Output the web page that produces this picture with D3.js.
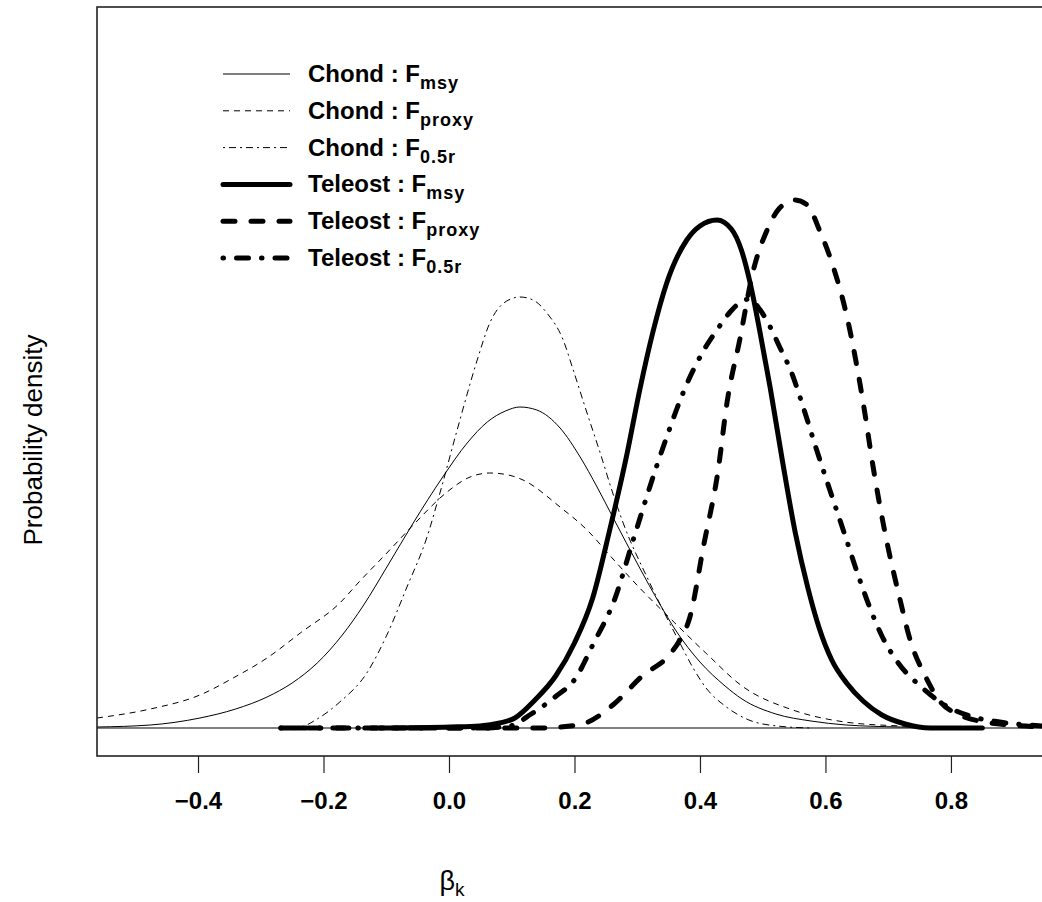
<!DOCTYPE html>
<html>
<head>
<meta charset="utf-8">
<script src="https://cdn.jsdelivr.net/npm/d3@7"></script>
<style>
body { margin: 0; background: #fff; }
svg { display: block; font-family: "Liberation Sans", Arial, sans-serif; }
</style>
</head>
<body>
<div id="chart"></div>
<script>
// density curves, [beta_k, density]
var chondMsy = [[-0.561,0.01],[-0.476,0.03],[-0.397,0.10],[-0.340,0.19],[-0.290,0.31],[-0.250,0.45],
    [-0.210,0.65],[-0.170,0.93],[-0.137,1.22],[-0.099,1.61],[-0.057,2.05],[-0.010,2.51],[0.029,2.85],
    [0.061,3.06],[0.090,3.17],[0.113,3.21],[0.140,3.18],[0.177,3.00],[0.209,2.71],[0.236,2.41],
    [0.261,2.11],[0.304,1.60],[0.335,1.25],[0.362,0.97],[0.400,0.66],[0.440,0.42],[0.467,0.29],
    [0.521,0.14],[0.577,0.07],[0.633,0.03],[0.719,0.01],[0.80,0.0]];
var chondProxy = [[-0.561,0.10],[-0.476,0.19],[-0.397,0.33],[-0.344,0.50],[-0.290,0.70],[-0.237,0.95],
    [-0.174,1.25],[-0.142,1.47],[-0.099,1.75],[-0.057,2.03],[-0.003,2.36],[0.030,2.50],[0.065,2.55],
    [0.095,2.53],[0.118,2.48],[0.177,2.21],[0.220,1.98],[0.260,1.70],[0.304,1.40],[0.360,1.05],
    [0.411,0.74],[0.467,0.42],[0.548,0.18],[0.631,0.06],[0.719,0.02],[0.80,0.0]];
var chondHalfR = [[-0.261,0.0],[-0.237,0.01],[-0.210,0.09],[-0.174,0.26],[-0.131,0.55],[-0.099,0.93],
    [-0.067,1.41],[-0.035,1.91],[-0.014,2.36],[0.013,2.98],[0.045,3.68],[0.065,4.05],[0.092,4.27],
    [0.113,4.31],[0.134,4.28],[0.156,4.15],[0.182,3.88],[0.198,3.58],[0.220,3.15],[0.241,2.75],
    [0.261,2.35],[0.277,2.06],[0.320,1.45],[0.368,0.85],[0.390,0.59],[0.411,0.39],[0.440,0.22],
    [0.478,0.08],[0.523,0.02],[0.577,0.0]];
var teleMsy = [[-0.110,0.0],[0.002,0.01],[0.049,0.02],[0.081,0.05],[0.105,0.10],[0.137,0.28],
    [0.170,0.52],[0.200,0.85],[0.229,1.30],[0.255,1.95],[0.284,2.75],[0.304,3.38],[0.325,3.96],
    [0.347,4.45],[0.379,4.88],[0.400,5.02],[0.427,5.08],[0.450,4.99],[0.466,4.78],[0.480,4.45],
    [0.495,3.98],[0.512,3.40],[0.532,2.65],[0.552,1.95],[0.572,1.40],[0.590,1.00],[0.610,0.68],
    [0.635,0.44],[0.660,0.27],[0.690,0.13],[0.727,0.04],[0.767,0.0],[0.85,0.0]];
var teleProxy = [[-0.268,0.0],[0.145,0.0],[0.193,0.02],[0.218,0.05],[0.263,0.24],[0.308,0.52],
    [0.351,0.73],[0.368,0.88],[0.384,1.11],[0.406,1.83],[0.429,2.58],[0.443,3.25],[0.464,3.90],
    [0.484,4.55],[0.507,4.98],[0.527,5.20],[0.551,5.28],[0.571,5.23],[0.591,4.97],[0.612,4.62],
    [0.634,4.12],[0.650,3.62],[0.662,3.18],[0.676,2.61],[0.695,1.95],[0.719,1.28],[0.735,0.88],
    [0.759,0.52],[0.782,0.27],[0.814,0.13],[0.854,0.06],[0.894,0.03],[0.945,0.01]];
var teleHalfR = [[-0.268,0.0],[0.049,0.0],[0.097,0.02],[0.131,0.14],[0.169,0.31],[0.202,0.50],
    [0.229,0.83],[0.263,1.27],[0.296,1.93],[0.331,2.62],[0.347,2.91],[0.363,3.19],[0.379,3.44],
    [0.395,3.65],[0.410,3.82],[0.427,3.98],[0.448,4.16],[0.465,4.26],[0.478,4.29],[0.496,4.18],
    [0.512,4.01],[0.527,3.81],[0.545,3.57],[0.565,3.20],[0.586,2.78],[0.607,2.38],[0.631,1.93],
    [0.652,1.53],[0.671,1.20],[0.690,0.92],[0.716,0.65],[0.751,0.42],[0.790,0.23],[0.830,0.12],
    [0.878,0.06],[0.945,0.02]];

var groups = ["Chond", "Chond", "Chond", "Teleost", "Teleost", "Teleost"];
var refPoints = ["msy", "proxy", "0.5r", "msy", "proxy", "0.5r"];
var xTicks = [-0.4, -0.2, 0.0, 0.2, 0.4, 0.6, 0.8];

var curves = [chondMsy, chondProxy, chondHalfR, teleMsy, teleProxy, teleHalfR];
// line styles: width, dash pattern
var styles = [
    {w: 1, dash: null},
    {w: 1, dash: "6,5"},
    {w: 1, dash: "2,4,7,4"},
    {w: 5, dash: null},
    {w: 5, dash: "12,16"},
    {w: 5, dash: "0.5,13,12,13"}
];

var width = 1042, height = 902;
var plot = {left: 97, top: 7, right: 1062, bottom: 756};

var x = d3.scaleLinear().domain([-0.561, 0.977]).range([plot.left, plot.right]);
var y = d3.scaleLinear().domain([-0.28, 7.21]).range([plot.bottom, plot.top]);

var svg = d3.select("#chart").append("svg")
    .attr("width", width)
    .attr("height", height);

svg.append("clipPath").attr("id", "clip")
    .append("rect")
    .attr("x", plot.left).attr("y", plot.top)
    .attr("width", plot.right - plot.left).attr("height", plot.bottom - plot.top);

// zero line
svg.append("line")
    .attr("x1", plot.left).attr("x2", plot.right)
    .attr("y1", y(0)).attr("y2", y(0))
    .attr("stroke", "#000").attr("stroke-width", 1.2);

var line = d3.line()
    .x(function (d) { return x(d[0]); })
    .y(function (d) { return y(d[1]); })
    .curve(d3.curveMonotoneX);

svg.append("g")
    .attr("clip-path", "url(#clip)")
    .selectAll("path")
    .data(curves)
    .enter().append("path")
    .attr("d", line)
    .attr("fill", "none")
    .attr("stroke", "#000")
    .attr("stroke-width", function (d, i) { return styles[i].w; })
    .attr("stroke-dasharray", function (d, i) { return styles[i].dash; })
    .attr("stroke-linecap", function (d, i) { return styles[i].w > 2 ? "round" : "butt"; })
    .attr("stroke-linejoin", "round");

// box
svg.append("rect")
    .attr("x", plot.left).attr("y", plot.top)
    .attr("width", plot.right - plot.left).attr("height", plot.bottom - plot.top)
    .attr("fill", "none").attr("stroke", "#222").attr("stroke-width", 1.6);

// x axis
var xAxis = d3.axisBottom(x)
    .tickValues(xTicks)
    .tickSize(17)
    .tickPadding(19)
    .tickFormat(d3.format(".1f"));

var gx = svg.append("g")
    .attr("transform", "translate(0," + plot.bottom + ")")
    .call(xAxis);
gx.select(".domain").remove();
gx.selectAll(".tick line").attr("stroke", "#222").attr("stroke-width", 1.2);
gx.selectAll(".tick text")
    .attr("fill", "#000")
    .style("font-size", "24px")
    .style("font-weight", "bold")
    .style("font-family", "'Liberation Sans', Arial, sans-serif");

// axis titles
var xl = svg.append("text")
    .attr("x", 452).attr("y", 890)
    .attr("text-anchor", "middle")
    .style("font-size", "27px");
xl.append("tspan").text("β");
xl.append("tspan").attr("dy", 6).style("font-size", "19px").text("k");

svg.append("text")
    .attr("transform", "translate(42,440) rotate(-90)")
    .attr("text-anchor", "middle")
    .style("font-size", "26px")
    .text("Probability density");

// legend
var legend = svg.append("g");
var rowY = d3.scaleLinear().domain([0, 5]).range([74, 258]);

legend.selectAll("line")
    .data(curves)
    .enter().append("line")
    .attr("x1", 223).attr("x2", 290)
    .attr("y1", function (d, i) { return rowY(i); })
    .attr("y2", function (d, i) { return rowY(i); })
    .attr("stroke", "#000")
    .attr("stroke-width", function (d, i) { return styles[i].w; })
    .attr("stroke-dasharray", function (d, i) { return styles[i].dash; })
    .attr("stroke-linecap", function (d, i) { return styles[i].w > 2 ? "round" : "butt"; });

var lt = legend.selectAll("text")
    .data(groups)
    .enter().append("text")
    .attr("x", 308)
    .attr("y", function (d, i) { return rowY(i) + 8; })
    .style("font-size", "24px")
    .style("font-weight", "bold");
lt.append("tspan").text(function (d) { return d + " : F"; });
lt.append("tspan")
    .attr("dy", 7)
    .style("font-size", "18px")
    .style("letter-spacing", "1px")
    .text(function (d, i) { return refPoints[i]; });
</script>
</body>
</html>
